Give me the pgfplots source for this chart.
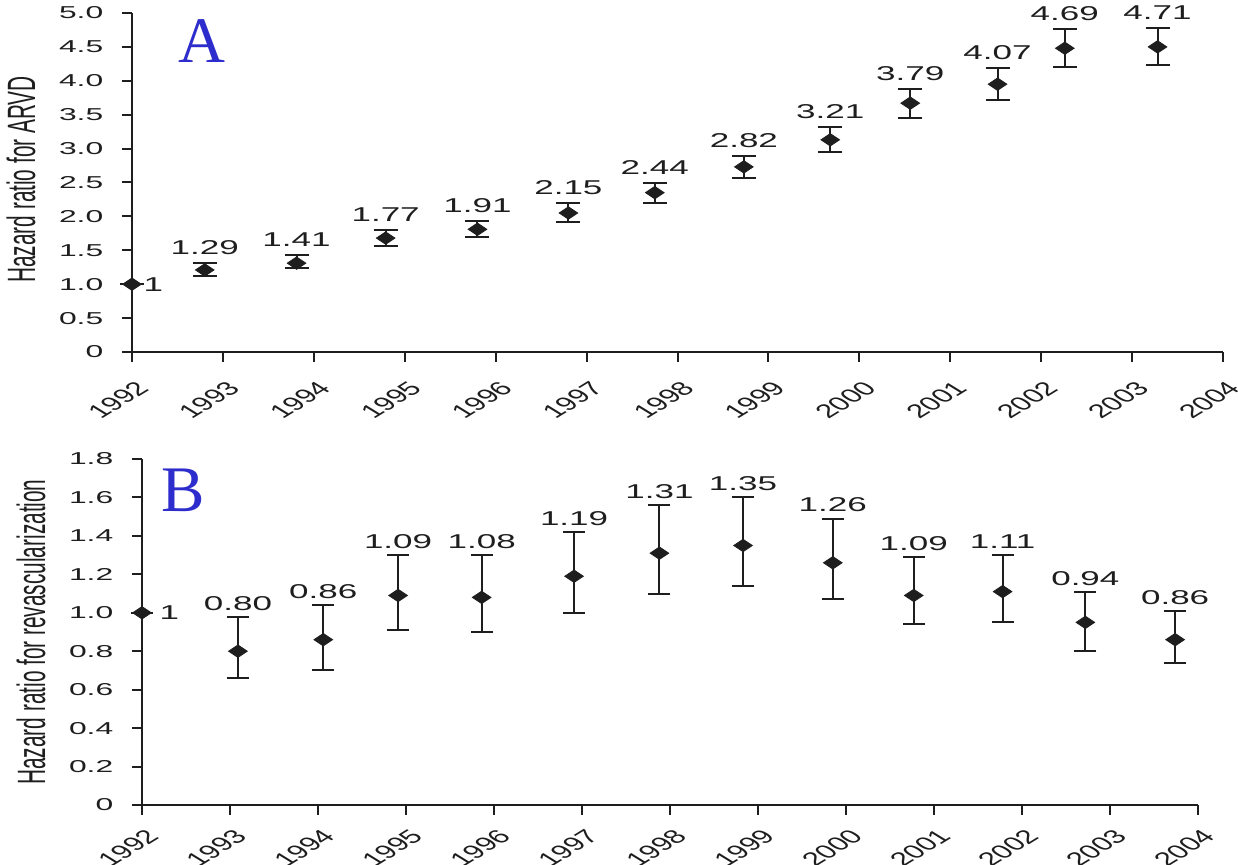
\documentclass[border=0pt]{standalone}
\usepackage{pgfplots}
\pgfplotsset{compat=1.18}
\usepackage{pgfplotstable}
\usepackage{fontspec}
\setmainfont{Liberation Sans}
\newfontfamily\panelfont{Liberation Serif}
\definecolor{ink}{RGB}{30,30,30}
\definecolor{panelblue}{RGB}{45,45,205}

% x = years after 1992, y = hazard ratio, lo/hi = confidence interval
\pgfplotstableread{
x     y     lo    hi    lab
0     1.00  1.00  1.00  1
0.80  1.21  1.12  1.31  1.29
1.81  1.31  1.24  1.43  1.41
2.79  1.68  1.56  1.80  1.77
3.80  1.81  1.70  1.93  1.91
4.80  2.05  1.92  2.20  2.15
5.75  2.35  2.20  2.49  2.44
6.73  2.73  2.57  2.89  2.82
7.68  3.13  2.95  3.32  3.21
8.56  3.67  3.45  3.88  3.79
9.52  3.95  3.72  4.19  4.07
10.26 4.48  4.21  4.76  4.69
11.28 4.50  4.23  4.78  4.71
}\arvd

\pgfplotstableread{
x     y     lo    hi    lab
0     1.00  1.00  1.00  1
1.09  0.80  0.66  0.98  0.80
2.06  0.86  0.70  1.04  0.86
2.91  1.09  0.91  1.30  1.09
3.86  1.08  0.90  1.30  1.08
4.91  1.19  1.00  1.42  1.19
5.88  1.31  1.10  1.56  1.31
6.83  1.35  1.14  1.60  1.35
7.85  1.26  1.07  1.49  1.26
8.77  1.09  0.94  1.29  1.09
9.78  1.11  0.95  1.30  1.11
10.72 0.95  0.80  1.11  0.94
11.74 0.86  0.74  1.01  0.86
}\revasc

\pgfplotsset{
  hazard/.style={
    scale only axis, clip=false,
    axis lines*=left,
    axis line style={line width=1pt, ink},
    tick style={line width=1pt, ink},
    tick align=outside, major tick length=5pt,
    xmin=0, xmax=12, xtick={0,...,12},
    xticklabels={1992,1993,1994,1995,1996,1997,1998,1999,2000,2001,2002,2003,2004},
    x tick label style={font=\fontsize{9.6}{11}\selectfont, text=ink, anchor=center,
      xshift=-7pt, yshift=#1, xscale=1.63, rotate=45},
    y tick label style={font=\fontsize{8.6}{10}\selectfont, text=ink, anchor=east,
      inner sep=0pt, xshift=-9pt, xscale=1.85},
    ylabel style={font=\fontsize{10.4}{12}\selectfont, text=ink, anchor=center,
      rotate=-90, xscale=1.9, rotate=90},
  },
  hrpoints/.style={
    only marks, mark=diamond*, mark size=3.1pt,
    mark options={xscale=2, fill=ink, draw=ink, line width=0.4pt},
    error bars/.cd, y dir=both, y explicit,
    error mark=-,
    error bar style={line width=1pt, ink},
    error mark options={rotate=90, line width=1pt, ink, mark size=#1},
  },
  hrlabels/.style={
    draw=none, mark=none, nodes near coords, point meta=explicit symbolic,
    skip coords between index={0}{1},
    every node near coord/.append style={font=\fontsize{10}{12}\selectfont, text=ink,
      anchor=south, inner sep=0pt, yshift=#1, xscale=1.75},
  },
}

\begin{document}
\begin{tikzpicture}
\useasboundingbox (0,0) rectangle (619pt,432.5pt);

% panel A
\begin{axis}[hazard=-19pt,
  at={(66pt,256.5pt)}, anchor=south west,
  width=545.5pt, height=169.5pt,
  ymin=0, ymax=5, ytick={0,0.5,...,5},
  yticklabels={0,0.5,1.0,1.5,2.0,2.5,3.0,3.5,4.0,4.5,5.0},
  ylabel={Hazard ratio for ARVD},
  ylabel style={at={(axis description cs:-0.1017,0.509)}},
]
\addplot[hrpoints=6pt] table[x=x, y=y,
  y error plus expr=\thisrow{hi}-\thisrow{y},
  y error minus expr=\thisrow{y}-\thisrow{lo}]{\arvd};
\addplot[hrlabels=4pt] table[x=x, y=hi, meta=lab]{\arvd};
\addplot[draw=none, mark=none, nodes near coords={1},
  every node near coord/.append style={font=\fontsize{10}{12}\selectfont, text=ink,
    anchor=west, inner sep=0pt, xshift=5.5pt, xscale=1.75}]
  coordinates {(0,1)};
\end{axis}

% panel B
\begin{axis}[hazard=-16.5pt,
  at={(71pt,30pt)}, anchor=south west,
  width=528pt, height=173pt,
  ymin=0, ymax=1.8, ytick={0,0.2,...,1.8},
  yticklabels={0,0.2,0.4,0.6,0.8,1.0,1.2,1.4,1.6,1.8},
  ylabel={Hazard ratio for revascularization},
  ylabel style={at={(axis description cs:-0.105,0.5)}},
]
\addplot[hrpoints=5.5pt] table[x=x, y=y,
  y error plus expr=\thisrow{hi}-\thisrow{y},
  y error minus expr=\thisrow{y}-\thisrow{lo}]{\revasc};
\addplot[hrlabels=3pt] table[x=x, y=hi, meta=lab]{\revasc};
\addplot[draw=none, mark=none, nodes near coords={1},
  every node near coord/.append style={font=\fontsize{10}{12}\selectfont, text=ink,
    anchor=west, inner sep=0pt, xshift=8.5pt, xscale=1.75}]
  coordinates {(0,1)};
\end{axis}

\node[anchor=base, inner sep=0pt, text=panelblue, font=\panelfont\fontsize{32.5}{36}\selectfont]
  at (101pt,401pt) {A};
\node[anchor=base, inner sep=0pt, text=panelblue, font=\panelfont\fontsize{32.5}{36}\selectfont]
  at (91.75pt,176.5pt) {B};
\end{tikzpicture}
\end{document}
